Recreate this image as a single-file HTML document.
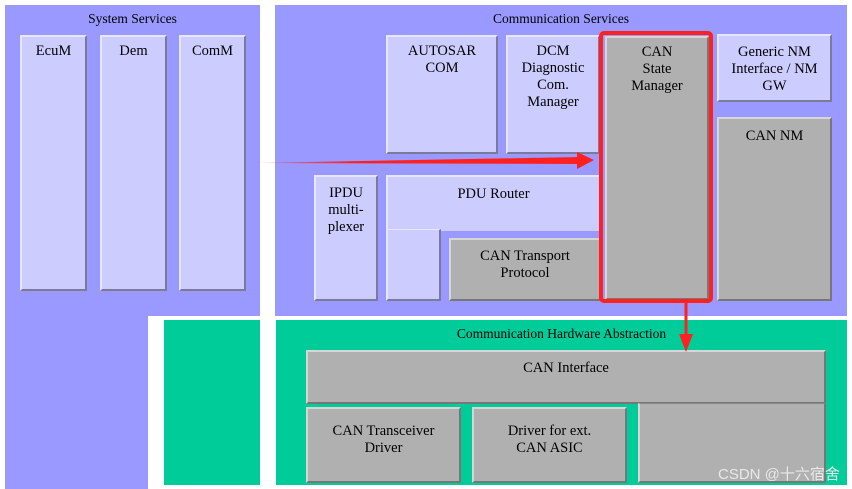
<!DOCTYPE html>
<html><head><meta charset="utf-8"><style>
body{margin:0;width:852px;height:489px;background:#fff;position:relative;overflow:hidden;font-family:"Liberation Serif",serif;}
div{position:absolute;box-sizing:border-box;}
.p{background:#9999ff;}
.g{background:#00cc99;}
.b{background:#ccccff;border-top:2px solid #e6e6ff;border-left:2px solid #e6e6ff;border-right:2px solid #7a7a9a;border-bottom:2px solid #7a7a9a;text-align:center;font-size:14.5px;line-height:17px;padding-top:6px;color:#000;}
.gr{background:#b0b0b0;border-top:2px solid #d6d6d6;border-left:2px solid #d6d6d6;border-right:2px solid #777;border-bottom:2px solid #777;}
.t{font-size:13.5px;text-align:center;color:#000;}
</style></head><body>
<div class="p" style="left:5px;top:5px;width:255px;height:311px"></div>
<div class="p" style="left:5px;top:316px;width:143px;height:173px"></div>
<div class="p" style="left:275px;top:5px;width:572px;height:311px"></div>
<div class="g" style="left:164px;top:320px;width:96px;height:165px"></div>
<div class="g" style="left:276px;top:320px;width:571px;height:165px"></div>
<div class="t" style="left:5px;top:11px;width:255px">System Services</div>
<div class="t" style="left:275px;top:11px;width:572px">Communication Services</div>
<div class="t" style="left:276px;top:326px;width:571px">Communication Hardware Abstraction</div>
<div class="b" style="left:20px;top:35px;width:67px;height:256px">EcuM</div>
<div class="b" style="left:100px;top:35px;width:67px;height:256px">Dem</div>
<div class="b" style="left:179px;top:35px;width:67px;height:256px">ComM</div>
<div class="b" style="left:386px;top:35px;width:112px;height:119px">AUTOSAR<br>COM</div>
<div class="b" style="left:506px;top:35px;width:94px;height:119px">DCM<br>Diagnostic<br>Com.<br>Manager</div>
<div class="b" style="left:717px;top:34px;width:115px;height:68px;padding-top:8px">Generic NM<br>Interface / NM<br>GW</div>
<div class="b gr" style="left:717px;top:117px;width:115px;height:184px;padding-top:9px">CAN NM</div>
<div class="b" style="left:314px;top:175px;width:64px;height:126px;padding-top:8px">IPDU<br>multi-<br>plexer</div>
<div class="b" style="left:386px;top:175px;width:215px;height:56px;padding-top:9px;border-bottom:none">PDU Router</div>
<div class="b" style="left:386px;top:229px;width:55px;height:72px;border-top:1px solid #e6e6ff"></div>
<div class="b gr" style="left:449px;top:238px;width:152px;height:63px;padding-top:8px">CAN Transport<br>Protocol</div>
<div class="b gr" style="left:605px;top:36px;width:104px;height:264px;padding-top:6px">CAN<br>State<br>Manager</div>
<div style="left:599px;top:31px;width:114px;height:272px;border:4px solid #ff2020;border-radius:5px"></div>
<div class="b gr" style="left:306px;top:350px;width:520px;height:54px;padding-top:8px">CAN Interface</div>
<div class="b gr" style="left:306px;top:407px;width:155px;height:76px;padding-top:14px">CAN Transceiver<br>Driver</div>
<div class="b gr" style="left:472px;top:407px;width:155px;height:76px;padding-top:14px">Driver for ext.<br>CAN ASIC</div>
<div class="b gr" style="left:638px;top:403px;width:188px;height:80px;border-top:1px solid #888"></div>
<svg style="position:absolute;left:0;top:0" width="852" height="489">
<defs><linearGradient id="lg" x1="252" y1="0" x2="580" y2="0" gradientUnits="userSpaceOnUse"><stop offset="0" stop-color="#ff2020" stop-opacity="0.2"/><stop offset="0.3" stop-color="#ff2020"/></linearGradient></defs>
<polygon points="252,163 580,157 580,164" fill="url(#lg)"/>
<polygon points="577,152 594,160 577,169" fill="#ff2020"/>
<rect x="684.5" y="302" width="3" height="38" fill="#ff2020"/>
<polygon points="679,334 686,352 693,334" fill="#ff2020"/>
</svg>
<div style="left:718px;top:463px;font-family:'Liberation Sans','Noto Sans CJK SC',sans-serif;font-size:15px;color:#e8e8e8;white-space:nowrap">CSDN @十六宿舍</div>
</body></html>
